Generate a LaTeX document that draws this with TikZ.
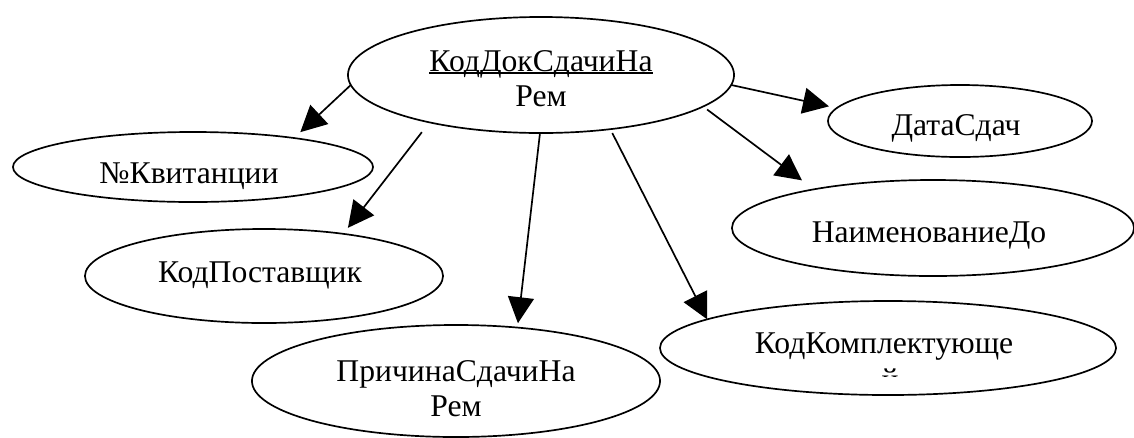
\documentclass[tikz,border=0pt]{standalone}
\usepackage{fontspec}
\setmainfont{Liberation Serif}
\usepackage{tikz}
\usetikzlibrary{arrows.meta, shapes}
\newcommand{\wordul}[1]{\setbox0\hbox{#1}\rlap{\rule[-0.06em]{\wd0}{0.05em}}\box0}

\begin{document}
\begin{tikzpicture}[
            x=0.025cm, y=-0.025cm,
            >={Triangle[width=6.5mm,length=6.5mm]},
                attr/.style = {ellipse, draw=black, outer sep=0pt, inner sep=2pt,
                            text centered, font=\fontsize{22.5}{25}\selectfont},
                keyattr/.style = {attr},
            line width=1.2pt,
            align=center]
            \useasboundingbox (0,0) rectangle (1134,437);
            \clip (0,0) rectangle (1134,437);
            \node (KodDokSdachiNaRem) [keyattr, minimum width=9.65cm, minimum height=2.9cm] at (541,75) {
                \rule{0pt}{0.725cm}\wordul{КодДокСдачиНа}\\Рем
            };
            \node (NomKvitancii) [attr, minimum width=9cm, minimum height=1.75cm,
                text height=0.8cm, text depth=0pt] at (193,167) {
                №Квитанции
            };
            \node (KodPostavshchik) [attr, minimum width=8.95cm, minimum height=2.35cm,
                text height=0.3cm, text depth=0pt] at (264,276) {
                КодПоставщик
            };
            \node (PrichinaSdachiNaRem) [attr, minimum width=10.2cm, minimum height=2.8cm] at (456,381) {
                \rule{0pt}{0.925cm}ПричинаСдачиНа\\Рем
            };
            \node (KodKomplektuyushchey) [attr, minimum width=11.4cm, minimum height=2.35cm,
                text height=0.25cm, text depth=0pt] at (888,348) {
                КодКомплектующе
            };
            \node (DataSdach) [attr, minimum width=6.6cm, minimum height=1.8cm,
                text height=0.7cm, text depth=0pt] at (960,121) {
                ДатаСдач
            };
            \node (NaimenovanieDo) [attr, minimum width=10.05cm, minimum height=2.4cm,
                text height=0.7cm, text depth=0pt] at (933,228) {
                НаименованиеДо
            };
            % cut-off last letter
            \begin{scope}
                \clip (850,360) rectangle (930,376);
                \node (KodKomplektuyushcheyTail) [anchor=base, inner sep=0pt, font=\fontsize{22.5}{25}\selectfont] at (890,390) {й};
            \end{scope}
            \draw[->, shorten >=2.15mm] (KodDokSdachiNaRem.183) -- (NomKvitancii.16);
            \draw[->, shorten <=3.1mm, shorten >=1.9mm] (KodDokSdachiNaRem.203) -- (KodPostavshchik.28);
            \draw[->, shorten >=1.1mm] (KodDokSdachiNaRem.269) -- (PrichinaSdachiNaRem.41);
            \draw[->, shorten <=1.1mm] (KodDokSdachiNaRem.322) -- (KodKomplektuyushchey.171);
            \draw[->, shorten >=2mm] (KodDokSdachiNaRem.357) -- (DataSdach.174);
            \draw[->, shorten <=1.25mm, shorten >=3.75mm] (KodDokSdachiNaRem.349) -- (NaimenovanieDo.162);
        \end{tikzpicture}
\end{document}
